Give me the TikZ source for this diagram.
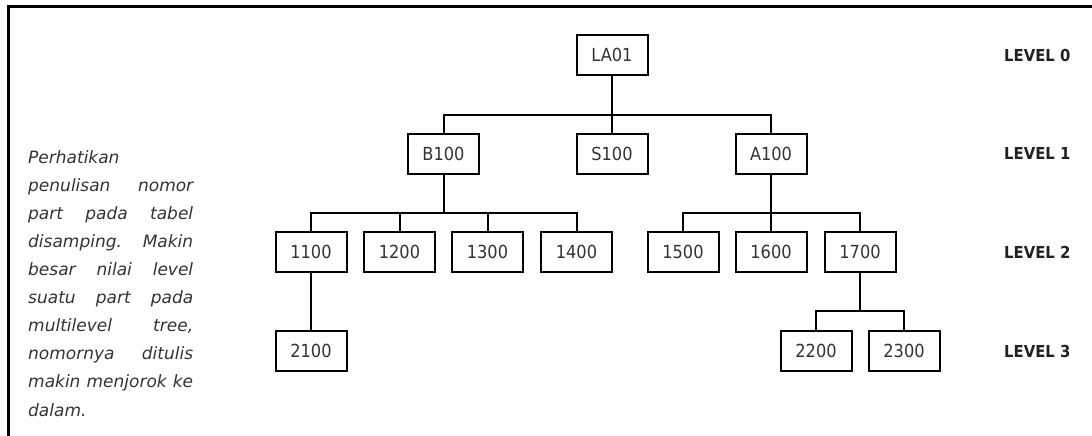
\documentclass[tikz,border=0pt]{standalone}
\usepackage{fontspec}
\setmainfont{DejaVu Sans}
\newfontfamily\boxfont{DejaVu Sans Condensed}
\newfontfamily\lvlfont{DejaVu Sans Condensed Bold}
\newfontfamily\notefont{DejaVu Sans Oblique}
\definecolor{ink}{HTML}{333333}
\definecolor{lvlink}{HTML}{222222}
\tikzset{
  part/.style={draw=black, line width=2pt, minimum width=71pt, minimum height=40pt,
    inner sep=0pt, fill=white, text=ink, font=\boxfont\fontsize{18}{20}\selectfont},
  link/.style={draw=black, line width=2pt},
  lvl/.style={anchor=west, inner sep=0pt, text=lvlink, font=\lvlfont\fontsize{16.5}{18}\selectfont},
  frame/.style={draw=black, line width=3pt}
}
\newcommand{\jline}[1]{\hbox to 165pt{#1}}
\begin{document}
\begin{tikzpicture}[x=1pt,y=-1pt]
\useasboundingbox (0,0) rectangle (1092,436);
% frame
\coordinate (fbl) at (8,438);
\coordinate (ftl) at (8,7);
\coordinate (ftr) at (1094,7);
\draw[frame] (fbl) -- (ftl) -- (ftr);

% level 0
\node[part] (LA01) at (612,55) {LA01};
% level 1
\node[part] (B100) at (443.5,153.5) {B100};
\node[part] (S100) at (612,153.5) {S100};
\node[part] (A100) at (771,153.5) {A100};
% level 2
\node[part] (n1100) at (311,252) {1100};
\node[part] (n1200) at (399.5,252) {1200};
\node[part] (n1300) at (487.5,252) {1300};
\node[part] (n1400) at (576.5,252) {1400};
\node[part] (n1500) at (683,252) {1500};
\node[part] (n1600) at (771,252) {1600};
\node[part] (n1700) at (860,252) {1700};
% level 3
\node[part] (n2100) at (311,351) {2100};
\node[part] (n2200) at (816,351) {2200};
\node[part] (n2300) at (904,351) {2300};

% connectors
\draw[link] (LA01.south) -- (612,115) -| (B100.north);
\draw[link] (612,115) -- (S100.north);
\draw[link] (612,115) -| (A100.north);

\draw[link] (B100.south) -- (443.5,213) -| (n1100.north);
\draw[link] (443.5,213) -| (n1200.north);
\draw[link] (443.5,213) -| (n1300.north);
\draw[link] (443.5,213) -| (n1400.north);

\draw[link] (A100.south) -- (771,213) -| (n1500.north);
\draw[link] (771,213) -- (n1600.north);
\draw[link] (771,213) -| (n1700.north);

\draw[link] (n1100.south) -- (n2100.north);

\draw[link] (n1700.south) -- (860,311) -| (n2200.north);
\draw[link] (860,311) -| (n2300.north);

% level labels
\node[lvl] (L0) at (1004,55) {LEVEL 0};
\node[lvl] (L1) at (1004,153.5) {LEVEL 1};
\node[lvl] (L2) at (1004,252) {LEVEL 2};
\node[lvl] (L3) at (1004,351) {LEVEL 3};

% note
\node[anchor=north west, inner sep=0pt, text=ink, align=left,
  font=\notefont\fontsize{17}{28.1}\selectfont] (note) at (28,150) {%
\jline{Perhatikan\hfill}\\
\jline{penulisan\hfill nomor}\\
\jline{part\hfill pada\hfill tabel}\\
\jline{disamping.\hfill Makin}\\
\jline{besar\hfill nilai\hfill level}\\
\jline{suatu\hfill part\hfill pada}\\
\jline{multilevel\hfill tree,}\\
\jline{nomornya\hfill ditulis}\\
\jline{makin\hfill menjorok\hfill ke}\\
\jline{dalam.\hfill}};
\end{tikzpicture}
\end{document}
